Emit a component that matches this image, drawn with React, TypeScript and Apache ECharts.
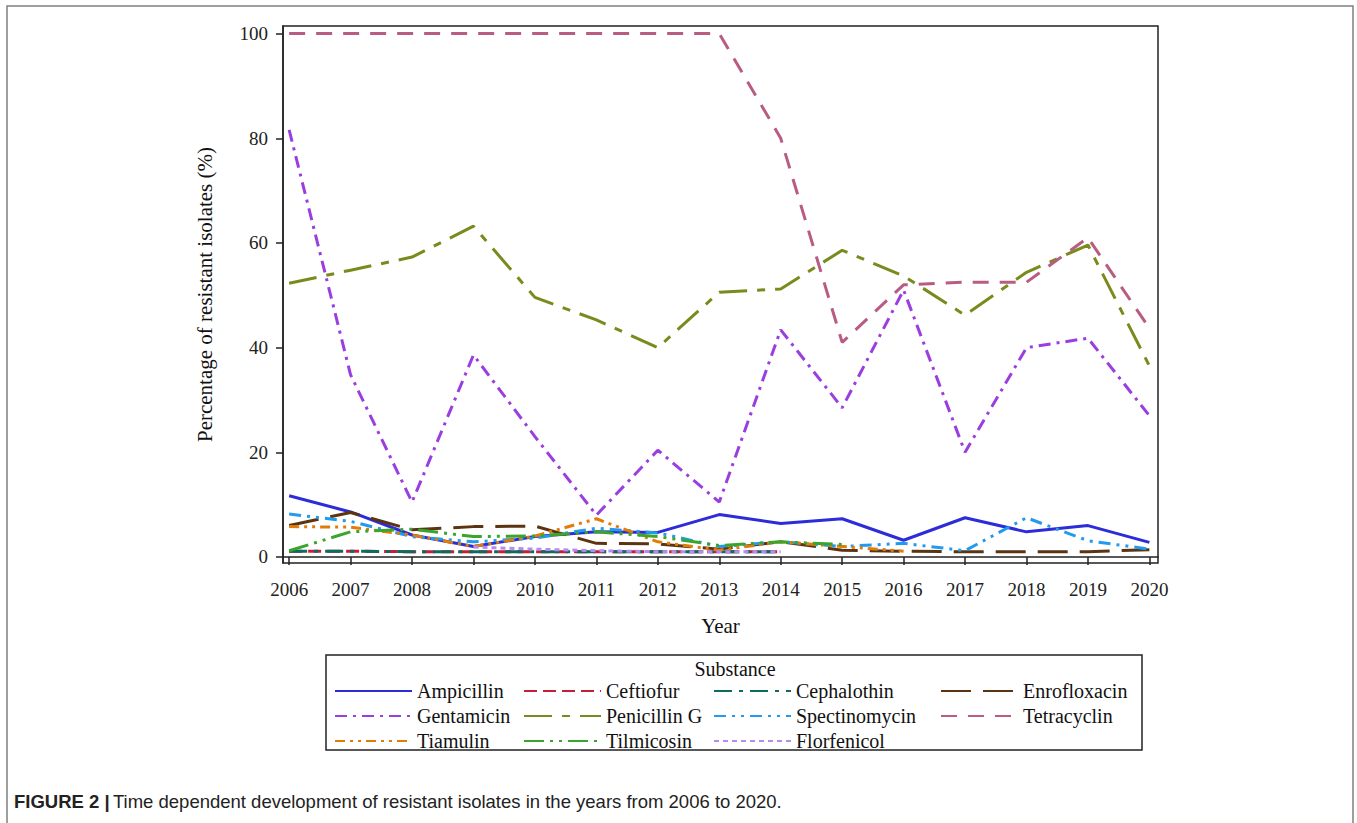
import React, { useEffect, useRef } from "react";
import * as echarts from "echarts";

const years = [2006, 2007, 2008, 2009, 2010, 2011, 2012, 2013, 2014, 2015, 2016, 2017, 2018, 2019, 2020];
const yTicks = [0, 20, 40, 60, 80, 100];

const ampicillin = [11.7, 8.6, 4.2, 2.0, 3.9, 4.8, 4.7, 8.1, 6.4, 7.3, 3.2, 7.5, 4.8, 6.0, 2.8];
const ceftiofur = [1.1, 1.1, 1.0, 1.0, 1.0, 1.0, 1.0, 1.0, 1.0, null, null, null, null, null, null];
const cephalothin = [1.1, 1.1, 1.0, 1.0, 1.0, 1.0, 1.0, 1.0, 1.0, null, null, null, null, null, null];
const enrofloxacin = [6.0, 8.5, 5.2, 5.8, 5.9, 2.6, 2.5, 1.5, 2.9, 1.3, 1.1, 1.0, 1.0, 1.0, 1.4];
const gentamicin = [81.6, 34.8, 10.5, 38.6, 23.0, 8.0, 20.4, 10.5, 43.4, 28.5, 51.0, 20.0, 40.0, 41.8, 27.0];
const penicillinG = [52.3, 54.8, 57.3, 63.2, 49.6, 45.3, 40.0, 50.6, 51.2, 58.6, 53.7, 46.2, 54.4, 59.6, 36.5];
const spectinomycin = [8.2, 6.8, 3.9, 2.9, 3.6, 5.5, 4.6, 2.0, 2.9, 2.0, 2.6, 1.2, 7.5, 3.1, 1.5];
const tetracyclin = [100, 100, 100, 100, 100, 100, 100, 100, 80, 41, 52, 52.5, 52.5, 61, 43.7];
const tiamulin = [5.8, 5.7, 4.2, 2.0, 4.0, 7.3, 2.9, 1.3, 2.9, 2.0, 1.1, null, null, null, null];
const tilmicosin = [1.2, 4.8, 5.3, 3.9, 4.0, 4.8, 3.9, 2.2, 2.9, 2.4, null, null, null, null, null];
const florfenicol = [null, null, null, 1.9, 1.5, 1.2, 1.0, 1.0, 1.0, null, null, null, null, null, null];

const seriesDefs = [
  { name: "Ampicillin", values: ampicillin, color: "#2c2cd8", dash: "solid" as any },
  { name: "Ceftiofur", values: ceftiofur, color: "#c41e3a", dash: [13, 6] },
  { name: "Cephalothin", values: cephalothin, color: "#0f6b5f", dash: [18, 7, 4, 7] },
  { name: "Enrofloxacin", values: enrofloxacin, color: "#5b3412", dash: [30, 12] },
  { name: "Gentamicin", values: gentamicin, color: "#9a3ee0", dash: [12, 6, 3, 6] },
  { name: "Penicillin G", values: penicillinG, color: "#7a8a1c", dash: [28, 10, 8, 10] },
  { name: "Spectinomycin", values: spectinomycin, color: "#229bee", dash: [12, 6, 3, 6, 3, 6] },
  { name: "Tetracyclin", values: tetracyclin, color: "#b85c84", dash: [16, 11] },
  { name: "Tiamulin", values: tiamulin, color: "#e07c08", dash: [10, 5, 3, 5, 3, 5] },
  { name: "Tilmicosin", values: tilmicosin, color: "#3aa52c", dash: [20, 6, 3, 6, 3, 6] },
  { name: "Florfenicol", values: florfenicol, color: "#b58cf0", dash: [5, 4] },
];

const legendColumns = [
  ["Ampicillin", "Gentamicin", "Tiamulin"],
  ["Ceftiofur", "Penicillin G", "Tilmicosin"],
  ["Cephalothin", "Spectinomycin", "Florfenicol"],
  ["Enrofloxacin", "Tetracyclin"],
];
const legendLefts = [334, 523, 713, 940];

const SERIF = "'Liberation Serif', 'DejaVu Serif', serif";
const SANS = "'Liberation Sans Narrow', 'Liberation Sans', Arial, sans-serif";

export default function App() {
  const ref = useRef<HTMLDivElement>(null);
  useEffect(() => {
    if (!ref.current) return;
    const chart = echarts.init(ref.current, undefined, { renderer: "svg" });
    const option: any = {
      animation: false,
      backgroundColor: "#ffffff",
      grid: {
        left: 283,
        top: 26,
        right: 199,
        bottom: 260,
        show: true,
        borderColor: "#222",
        borderWidth: 1.5,
        containLabel: false,
      },
      xAxis: {
        type: "value",
        min: 2005.9,
        max: 2020.14,
        name: "Year",
        nameLocation: "middle",
        nameGap: 52,
        nameTextStyle: { fontFamily: SERIF, fontSize: 21, color: "#111" },
        splitLine: { show: false },
        axisLine: { show: true, lineStyle: { color: "#222", width: 1.5 } },
        axisTick: { show: true, length: 8, inside: false, customValues: years, lineStyle: { color: "#222", width: 1.5 } },
        axisLabel: {
          customValues: years,
          formatter: (v: number) => String(Math.round(v)),
          fontFamily: SERIF,
          fontSize: 19,
          color: "#222",
          margin: 17,
        },
      },
      yAxis: {
        type: "value",
        min: -1.15,
        max: 101.45,
        name: "Percentage of resistant isolates (%)",
        nameLocation: "middle",
        nameGap: 68,
        nameTextStyle: { fontFamily: SERIF, fontSize: 21, color: "#111" },
        splitLine: { show: false },
        axisLine: { show: true, lineStyle: { color: "#222", width: 1.5 } },
        axisTick: { show: true, length: 7, customValues: yTicks, lineStyle: { color: "#222", width: 1.5 } },
        axisLabel: {
          customValues: yTicks,
          fontFamily: SERIF,
          fontSize: 19,
          color: "#222",
          margin: 15,
        },
      },
      legend: legendColumns.map((col, i) => ({
        data: col,
        orient: "vertical",
        left: legendLefts[i],
        top: 681,
        padding: 0,
        itemWidth: 77,
        itemHeight: 14,
        itemGap: 5,
        selectedMode: false,
        itemStyle: { opacity: 0, borderWidth: 0 },
        textStyle: { fontFamily: SERIF, fontSize: 20, color: "#111" },
      })),
      graphic: [
        {
          type: "rect",
          shape: { x: 7, y: 6, width: 1346, height: 840 },
          style: { fill: "none", stroke: "#808080", lineWidth: 1.5 },
          silent: true,
        },
        {
          type: "rect",
          shape: { x: 326, y: 655, width: 816, height: 95 },
          style: { fill: "none", stroke: "#222", lineWidth: 1.5 },
          silent: true,
        },
        {
          type: "text",
          x: 735,
          y: 669,
          style: {
            text: "Substance",
            font: "20px " + SERIF,
            fill: "#111",
            align: "center",
            verticalAlign: "middle",
          },
          silent: true,
        },
        {
          type: "text",
          x: 14,
          y: 801,
          style: {
            text: "{b|FIGURE 2 |} {n|Time dependent development of resistant isolates in the years from 2006 to 2020.}",
            rich: {
              b: { fontFamily: SANS, fontWeight: "bold", fontSize: 18.5, fill: "#222" },
              n: { fontFamily: SANS, fontSize: 18.5, fill: "#222" },
            },
            verticalAlign: "middle",
          },
          silent: true,
        },
      ],
      series: seriesDefs.map((s) => ({
        name: s.name,
        type: "line",
        symbol: "none",
        connectNulls: false,
        data: years.map((y, i) => [y, s.values[i]]),
        color: s.color,
        lineStyle: { color: s.color, width: 3, type: s.dash },
        itemStyle: { color: s.color },
      })),
    };
    chart.setOption(option);
    return () => chart.dispose();
  }, []);
  return (
    <div
      ref={ref}
      style={{ position: "absolute", left: 0, top: 0, width: 1357, height: 823, background: "#fff" }}
    />
  );
}
